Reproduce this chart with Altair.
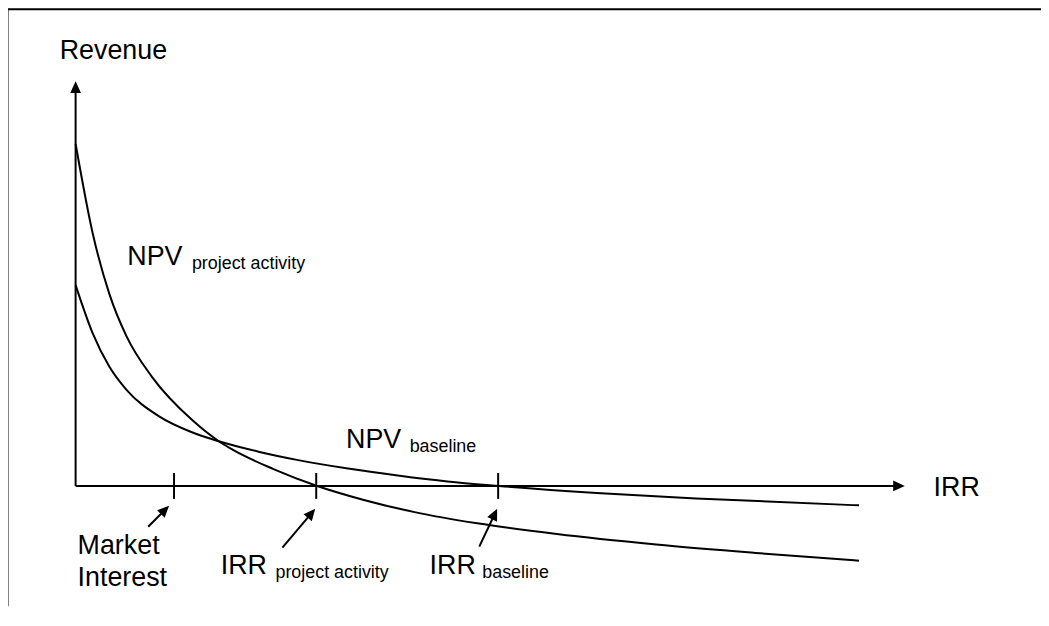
import altair as alt
import pandas as pd
import numpy as np

# ---- data (IRR units on x, revenue units on y) ----
proj_irr = [0, 1.7, 3.4, 5.1, 7.7, 11.7, 14.4, 15.7, 19.9, 24.3, 28.9, 34.1, 40.4, 48.4, 58.4, 68.4, 78.8]
proj_rev = [34.4, 25.5, 19.3, 15.1, 10.95, 6.65, 4.5, 3.7, 1.7, 0.0, -1.38, -2.63, -3.76, -4.84, -5.89, -6.74, -7.52]
base_irr = [0, 1.7, 3.4, 5.1, 8.4, 11.7, 14.4, 18.4, 22.4, 27.4, 32.4, 37.4, 42.6, 52.4, 62.4, 78.8]
base_rev = [20.2, 15.4, 12.0, 9.7, 7.0, 5.4, 4.5, 3.45, 2.6, 1.75, 1.05, 0.45, 0.0, -0.7, -1.25, -1.95]

# marked points on the IRR axis: market interest, IRR project activity, IRR baseline
tick_irr = [9.9, 24.2, 42.5]

# axis extents (arrow tips)
x_axis_end = 83.4
y_axis_end = 40.7

# pointer arrows (tail -> tip)
ptr_x0 = [7.3, 20.8, 40.6]
ptr_y0 = [-4.1, -6.2, -6.1]
ptr_x1 = [9.4, 24.1, 42.4]
ptr_y1 = [-2.0, -2.3, -2.3]

# labels
main_text = ["Revenue", "IRR", "NPV", "NPV", "Market", "Interest", "IRR", "IRR"]
main_x = [-1.6, 86.3, 5.2, 27.2, 0.2, 0.2, 14.6, 35.6]
main_y = [42.9, -1.0, 22.2, 3.8, -6.8, -10.1, -8.9, -8.9]
sub_text = ["project activity", "baseline", "project activity", "baseline"]
sub_x = [11.7, 33.6, 20.1, 40.9]
sub_y = [21.8, 3.4, -9.3, -9.3]

# ---- layout ----
W, H = 1035, 596
xs = alt.Scale(domain=[-6.4, 97.1], nice=False, zero=False)
ys = alt.Scale(domain=[-12.1, 47.5], nice=False, zero=False)
FONT = "Liberation Sans"
HEAD = "M0,0L0.9,1.95L-0.9,1.95Z"
SHORT = 0.6

curves = pd.concat([
    pd.DataFrame({"irr": proj_irr, "rev": proj_rev, "series": "NPV project activity"}),
    pd.DataFrame({"irr": base_irr, "rev": base_rev, "series": "NPV baseline"}),
])

curve_layer = alt.Chart(curves).mark_line(
    interpolate="monotone", strokeWidth=2, color="black"
).encode(
    x=alt.X("irr:Q", scale=xs, axis=None),
    y=alt.Y("rev:Q", scale=ys, axis=None),
    detail="series:N",
    order="irr:Q",
)

axes_df = pd.DataFrame({
    "x": [0.0, 0.0], "y": [0.0, 0.0],
    "x2": [0.0, x_axis_end - SHORT], "y2": [y_axis_end - SHORT, 0.0],
})
axes_layer = alt.Chart(axes_df).mark_rule(strokeWidth=2, color="black").encode(
    x=alt.X("x:Q", scale=xs, axis=None), y=alt.Y("y:Q", scale=ys, axis=None),
    x2="x2:Q", y2="y2:Q",
)

ticks_df = pd.DataFrame({"x": tick_irr, "y": [1.3] * 3, "y2": [-1.3] * 3})
ticks_layer = alt.Chart(ticks_df).mark_rule(strokeWidth=2, color="black").encode(
    x=alt.X("x:Q", scale=xs, axis=None), y=alt.Y("y:Q", scale=ys, axis=None), y2="y2:Q",
)

px0, py0, px1, py1 = map(np.array, (ptr_x0, ptr_y0, ptr_x1, ptr_y1))
dx, dy = px1 - px0, py1 - py0
ln = np.hypot(dx, dy)
ptr_df = pd.DataFrame({
    "x": px0, "y": py0,
    "x2": px1 - dx / ln * SHORT, "y2": py1 - dy / ln * SHORT,
})
ptr_layer = alt.Chart(ptr_df).mark_rule(strokeWidth=2, color="black").encode(
    x=alt.X("x:Q", scale=xs, axis=None), y=alt.Y("y:Q", scale=ys, axis=None),
    x2="x2:Q", y2="y2:Q",
)

heads_df = pd.DataFrame({
    "x": [0.0, x_axis_end] + list(px1),
    "y": [y_axis_end, 0.0] + list(py1),
    "ang": [0.0, 90.0] + list(np.degrees(np.arctan2(dx, dy))),
})
heads_layer = alt.Chart(heads_df).mark_point(
    shape=HEAD, filled=True, fill="black", strokeWidth=0, opacity=1, size=144
).encode(
    x=alt.X("x:Q", scale=xs, axis=None), y=alt.Y("y:Q", scale=ys, axis=None),
    angle=alt.Angle("ang:Q", scale=None),
)

main_df = pd.DataFrame({"t": main_text, "x": main_x, "y": main_y})
main_layer = alt.Chart(main_df).mark_text(
    align="left", baseline="alphabetic", font=FONT, fontSize=27, color="black"
).encode(
    x=alt.X("x:Q", scale=xs, axis=None), y=alt.Y("y:Q", scale=ys, axis=None), text="t:N",
)

sub_df = pd.DataFrame({"t": sub_text, "x": sub_x, "y": sub_y})
sub_layer = alt.Chart(sub_df).mark_text(
    align="left", baseline="alphabetic", font=FONT, fontSize=18, color="black"
).encode(
    x=alt.X("x:Q", scale=xs, axis=None), y=alt.Y("y:Q", scale=ys, axis=None), text="t:N",
)

frame_df = pd.DataFrame({"k": [0]})
frame_top = alt.Chart(frame_df).mark_rule(strokeWidth=2, color="black").encode(
    x=alt.value(-5), x2=alt.value(W), y=alt.value(-4.5)
)
frame_left = alt.Chart(frame_df).mark_rule(strokeWidth=2, color="black").encode(
    x=alt.value(-4.5), y=alt.value(-5), y2=alt.value(H)
)

chart = alt.layer(
    frame_top, frame_left, curve_layer, axes_layer, ticks_layer,
    ptr_layer, heads_layer, main_layer, sub_layer,
).properties(
    width=W, height=H,
    autosize=alt.AutoSizeParams(type="none"),
    padding={"left": 4, "top": 4, "right": 0, "bottom": 0},
    background="white",
).configure_view(stroke=None)

chart.save("out.html", embed_options={"renderer": "svg", "actions": False})
